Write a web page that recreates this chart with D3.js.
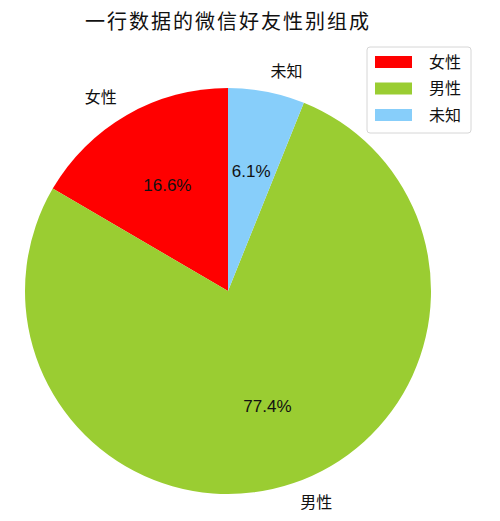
<!DOCTYPE html>
<html>
  <head>
    <meta charset="utf-8">
    <title>微信好友性别组成</title>
    <script type="text/javascript" src="https://cdn.jsdelivr.net/npm/d3@7/dist/d3.min.js"></script>
    <style>
      body { margin: 0; background: #fff; }
      text { font-family: "Noto Sans CJK SC", "Liberation Sans", sans-serif; fill: #111; }
      .pct { font-family: "Liberation Sans", Arial, sans-serif; }
    </style>
  </head>
  <body>
    <script type="text/javascript">
      // data
      var labels = ["女性", "男性", "未知"];
      var values = [16.6, 77.4, 6.1];
      var colors = ["#ff0000", "#9acd32", "#87cefa"];
      var title = "一行数据的微信好友性别组成";

      var w = 500
      var h = 521
      var cx = 228, cy = 291, r = 203;

      var svg = d3.select("body").append("svg")
                  .attr("width", w)
                  .attr("height", h);

      // title
      svg.append("text")
         .attr("x", cx)
         .attr("y", 29)
         .attr("text-anchor", "middle")
         .style("font-size", "20px")
         .style("letter-spacing", "2px")
         .text(title);

      // matplotlib style: start at top, go counterclockwise
      var pie = d3.pie()
                  .sort(null)
                  .value(function(d) { return d; })
                  .startAngle(0)
                  .endAngle(-2 * Math.PI);

      var arcs = pie(values);
      var arc = d3.arc().innerRadius(0).outerRadius(r);

      var g = svg.append("g")
                 .attr("transform", "translate(" + cx + "," + cy + ")");

      g.selectAll("path")
       .data(arcs)
       .enter()
       .append("path")
       .attr("d", arc)
       .attr("fill", function(d, i) { return colors[i]; });

      // point on the circle at a fraction of r (d3 angle: 0 at top, clockwise)
      function at(d, k) {
        var a = (d.startAngle + d.endAngle) / 2;
        return [Math.sin(a) * r * k, -Math.cos(a) * r * k];
      }

      // percentages at 0.6 r
      g.selectAll("text.pct")
       .data(arcs)
       .enter()
       .append("text")
       .attr("class", "pct")
       .attr("x", function(d) { return at(d, 0.6)[0]; })
       .attr("y", function(d) { return at(d, 0.6)[1]; })
       .attr("dy", "0.35em")
       .attr("text-anchor", "middle")
       .style("font-size", "17px")
       .text(function(d) { return d.value.toFixed(1) + "%"; });

      // labels at 1.1 r
      g.selectAll("text.lab")
       .data(arcs)
       .enter()
       .append("text")
       .attr("class", "lab")
       .attr("x", function(d) { return at(d, 1.1)[0]; })
       .attr("y", function(d) { return at(d, 1.1)[1]; })
       .attr("dy", "0.35em")
       .attr("text-anchor", function(d) { return at(d, 1)[0] < 0 ? "end" : "start"; })
       .style("font-size", "16px")
       .text(function(d, i) { return labels[i]; });

      // legend
      var lg = svg.append("g").attr("transform", "translate(367,47)");
      lg.append("rect")
        .attr("width", 104)
        .attr("height", 86)
        .attr("rx", 3)
        .attr("fill", "#fff")
        .attr("stroke", "#d6d6d6");
      var row = lg.selectAll("g.row")
                  .data(labels)
                  .enter()
                  .append("g")
                  .attr("transform", function(d, i) { return "translate(0," + (15 + i * 26.5) + ")"; });
      row.append("rect")
         .attr("x", 8)
         .attr("y", -6)
         .attr("width", 37)
         .attr("height", 12)
         .attr("fill", function(d, i) { return colors[i]; });
      row.append("text")
         .attr("x", 62)
         .attr("dy", "0.35em")
         .style("font-size", "16px")
         .text(function(d) { return d; });
    </script>
  </body>
</html>
